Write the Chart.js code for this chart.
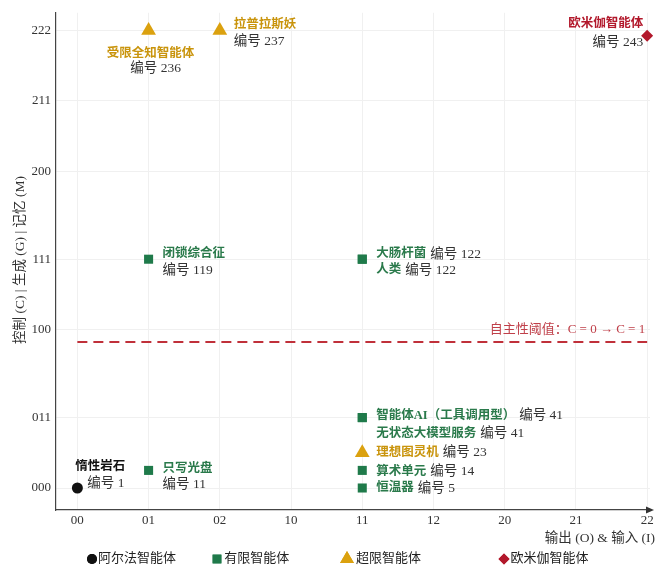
<!DOCTYPE html>
<html><head><meta charset="utf-8">
<script src="https://cdn.jsdelivr.net/npm/chart.js@4"></script>
<style>html,body{margin:0;padding:0;background:#fff;}</style>
</head><body>
<canvas id="c" width="660" height="577"></canvas>
<script>
// ---------- data ----------
const categories = ['阿尔法智能体', '有限智能体', '超限智能体', '欧米伽智能体'];
const xTickValues = [0, 1, 2, 3, 4, 5, 6, 7, 8];
const xTickLabels = ['00', '01', '02', '10', '11', '12', '20', '21', '22'];
const yTickValues = [0, 4, 9, 13, 18, 22, 26];
const yTickLabels = ['000', '011', '100', '111', '200', '211', '222'];

const pointNames = ['惰性岩石', '只写光盘', '闭锁综合征', '大肠杆菌', '人类', '智能体AI（工具调用型）', '无状态大模型服务', '理想图灵机', '算术单元', '恒温器', '受限全知智能体', '拉普拉斯妖', '欧米伽智能体'];
const pointIds = [1, 11, 119, 122, 122, 41, 41, 23, 14, 5, 236, 237, 243];
const pointX = [0, 1, 1, 4, 4, 4, 4, 4, 4, 4, 1, 2, 8];
const pointY = [0, 1, 13, 13, 13, 4, 4, 2, 1, 0, 26, 26, 25.7];
const pointCat = [0, 1, 1, 1, 1, 1, 1, 2, 1, 1, 2, 2, 3];

const thresholdY = 8.3;
const thresholdXRange = [0, 8];
const thresholdLabel = '自主性阈值：C = 0 → C = 1';
const xTitle = '输出 (O) & 输入 (I)';
const yTitle = '控制 (C) | 生成 (G) | 记忆 (M)';

// ---------- styles ----------
const catColors = ['#111111', '#1f7a4a', '#dba10f', '#b2182b'];
const catText = ['#111111', '#2a7a4b', '#c9940c', '#b2182b'];
const catStyle = ['circle', 'rect', 'triangle', 'rectRot'];
const catRadius = [5.5, 6.4, 8.5, 6];
// label layout: [mode, nameDx, nameDy, idDx, idDy]
const labelLayout = [
  ['stack', -2, -21, 10, -5],
  ['stack', 14, -2, 14, 14],
  ['stack', 14, -5, 14, 11],
  ['inline', 14, -5],
  ['inline', 14, 11],
  ['inline', 14, -2],
  ['inline', 14, 16],
  ['inline', 14, 0],
  ['inline', 14, 1],
  ['inline', 14, 0],
  ['center', 2, 23, 7, 38],
  ['stack', 14, -6, 14, 11],
  ['right', -4, -12, -4, 7]
];
const FONT = "'Liberation Serif','Noto Sans CJK SC',serif";

const datasets = categories.map((c, k) => ({
  label: c,
  type: 'scatter',
  clip: false,
  data: pointX.map((x, i) => ({x, y: pointY[i], i})).filter(p => pointCat[p.i] === k),
  pointStyle: catStyle[k],
  pointRadius: catRadius[k],
  pointHoverRadius: catRadius[k],
  backgroundColor: catColors[k],
  borderColor: catColors[k],
  borderWidth: 0
}));
datasets.push({
  label: 'threshold',
  type: 'line',
  data: thresholdXRange.map(x => ({x, y: thresholdY})),
  borderColor: '#c0303a',
  borderWidth: 2,
  borderDash: [10, 6],
  pointRadius: 0
});

const labelPlugin = {
  id: 'labels',
  afterDatasetsDraw(chart) {
    const ctx = chart.ctx, xs = chart.scales.x, ys = chart.scales.y;
    ctx.save();
    ctx.textBaseline = 'middle';
    const nameFont = 'bold 12.5px ' + FONT;
    const idFont = '13.5px ' + FONT;
    pointNames.forEach((name, i) => {
      const px = xs.getPixelForValue(pointX[i]);
      const py = ys.getPixelForValue(pointY[i]);
      const L = labelLayout[i];
      const col = catText[pointCat[i]];
      const idText = '编号 ' + pointIds[i];
      if (L[0] === 'inline') {
        ctx.textAlign = 'left';
        ctx.font = nameFont; ctx.fillStyle = col;
        ctx.fillText(name, px + L[1], py + L[2]);
        const w = ctx.measureText(name).width;
        ctx.font = idFont; ctx.fillStyle = '#333';
        ctx.fillText(idText, px + L[1] + w + 4, py + L[2]);
      } else {
        ctx.textAlign = L[0] === 'center' ? 'center' : (L[0] === 'right' ? 'right' : 'left');
        ctx.font = nameFont; ctx.fillStyle = col;
        ctx.fillText(name, px + L[1], py + L[2]);
        ctx.font = idFont; ctx.fillStyle = '#333';
        ctx.fillText(idText, px + L[3], py + L[4]);
      }
    });
    ctx.textAlign = 'right';
    ctx.font = '13px ' + FONT;
    ctx.fillStyle = '#c0404a';
    ctx.fillText(thresholdLabel, xs.getPixelForValue(thresholdXRange[1]) - 2, ys.getPixelForValue(thresholdY) - 12);
    ctx.restore();
  },
  afterDraw(chart) {
    const ctx = chart.ctx, a = chart.chartArea;
    ctx.save();
    ctx.fillStyle = '#333';
    ctx.beginPath();
    ctx.moveTo(a.right + 4, a.bottom);
    ctx.lineTo(a.right - 4, a.bottom - 3.5);
    ctx.lineTo(a.right - 4, a.bottom + 3.5);
    ctx.closePath(); ctx.fill();
    ctx.fillStyle = '#333';
    ctx.font = '13.5px ' + FONT;
    ctx.textBaseline = 'middle';
    ctx.textAlign = 'right';
    ctx.fillText(xTitle, 655, 538);
    ctx.translate(20, 260);
    ctx.rotate(-Math.PI / 2);
    ctx.textAlign = 'center';
    ctx.fillText(yTitle, 0, 0);
    ctx.restore();
    ctx.save();
    const legX = [92, 217, 347, 504];
    const legR = [5, 6.2, 8, 5.5];
    const legY = 559;
    categories.forEach((c, k) => {
      ctx.fillStyle = catColors[k];
      ctx.strokeStyle = catColors[k];
      Chart.helpers.drawPoint(ctx, {pointStyle: catStyle[k], radius: legR[k], rotation: 0, borderWidth: 0}, legX[k], legY);
      ctx.fill();
      ctx.fillStyle = '#222';
      ctx.font = '13px ' + FONT;
      ctx.textAlign = 'left';
      ctx.textBaseline = 'middle';
      ctx.fillText(c, legX[k] + legR[k] + 1, legY);
    });
    ctx.restore();
  }
};

new Chart(document.getElementById('c'), {
  data: {datasets},
  options: {
    responsive: false,
    animation: false,
    devicePixelRatio: 1,
    layout: {padding: {top: 12, right: 10, left: 0, bottom: 0}},
    plugins: {legend: {display: false}, tooltip: {enabled: false}},
    scales: {
      x: {
        type: 'linear', min: -0.3, max: 8.04,
        afterBuildTicks: s => { s.ticks = xTickValues.map(v => ({value: v})); },
        afterFit: s => { s.height = 67; },
        ticks: {callback: (v) => xTickLabels[xTickValues.indexOf(v)], color: '#333', font: {family: FONT, size: 13}, padding: 3, maxRotation: 0},
        grid: {color: '#f0f0f0', drawTicks: false},
        border: {color: '#444', width: 1.2}
      },
      y: {
        type: 'linear', min: -1.25, max: 27,
        afterBuildTicks: s => { s.ticks = yTickValues.map(v => ({value: v})); },
        afterFit: s => { s.width = 56; },
        ticks: {callback: (v) => yTickLabels[yTickValues.indexOf(v)], color: '#333', font: {family: FONT, size: 13}, padding: 5},
        grid: {color: '#f0f0f0', drawTicks: false},
        border: {color: '#444', width: 1.2}
      }
    }
  },
  plugins: [labelPlugin]
});
</script>
</body></html>
